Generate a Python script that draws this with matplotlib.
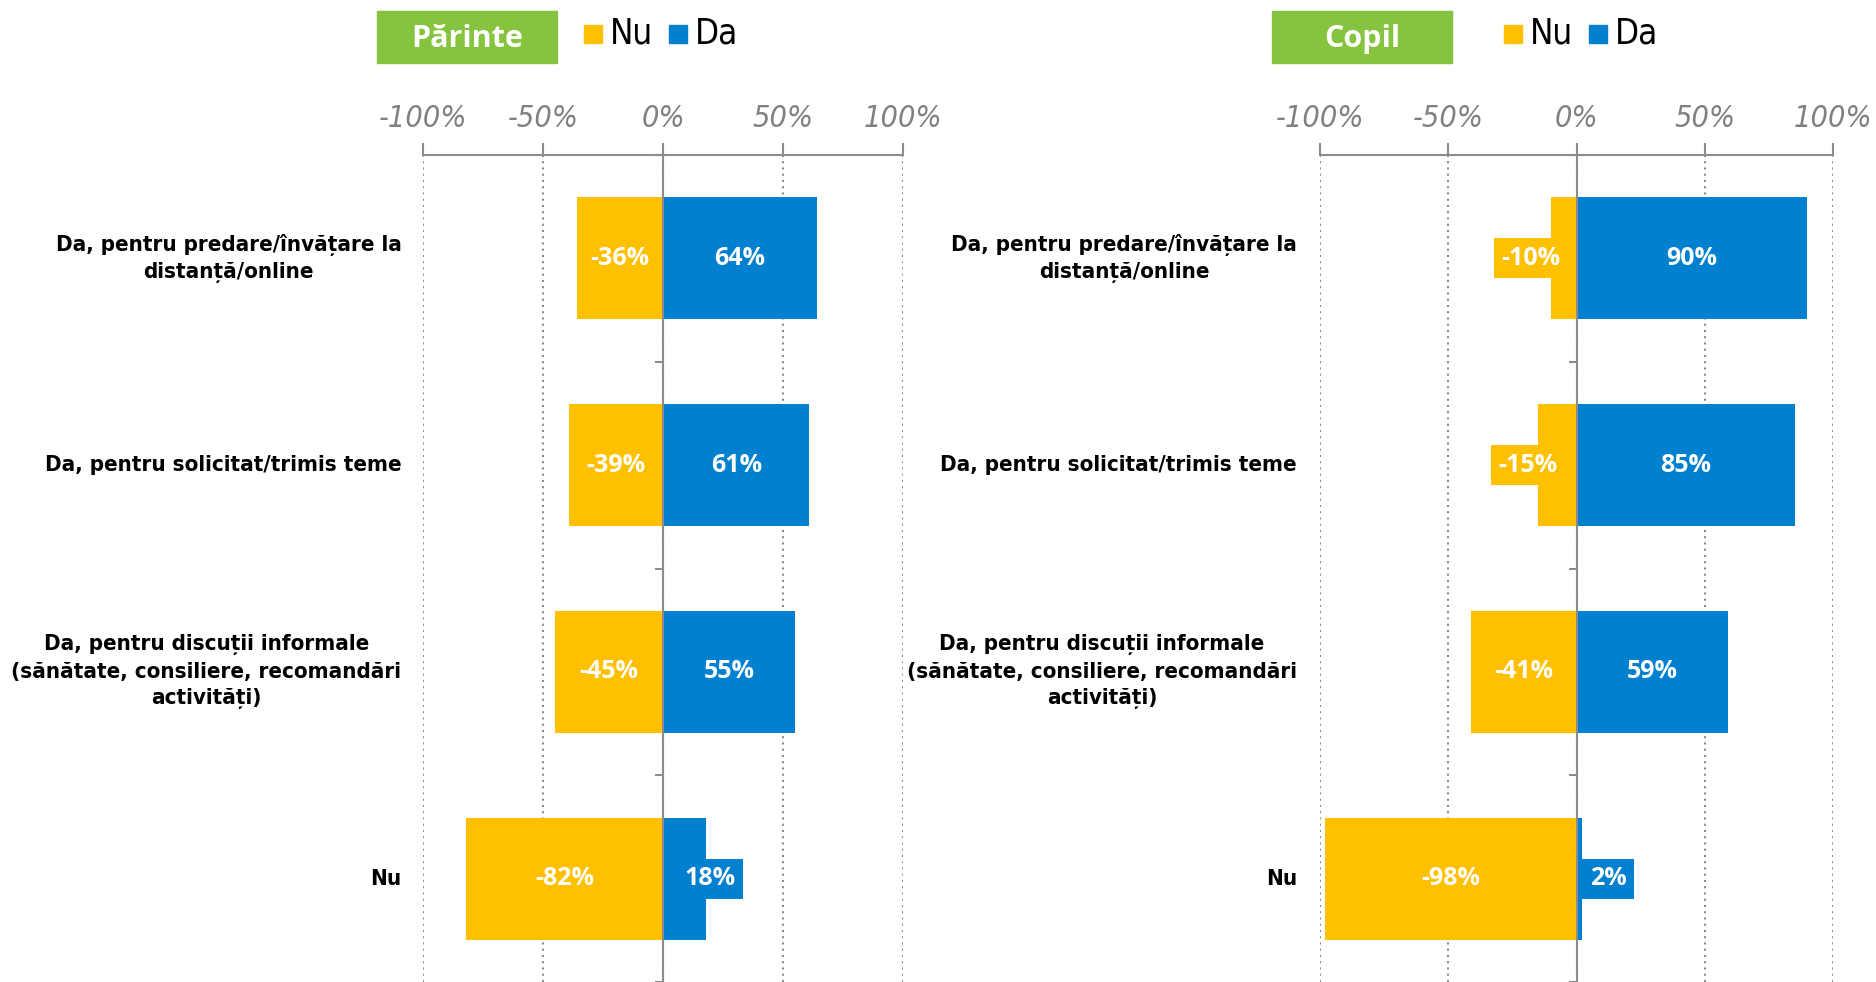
import numpy as np
import matplotlib.pyplot as plt
from matplotlib.patches import Rectangle
from matplotlib.ticker import FixedLocator
from matplotlib import font_manager as fm

# data
categories = ["Da, pentru predare/învățare la\ndistanță/online",
              "Da, pentru solicitat/trimis teme",
              "Da, pentru discuții informale\n(sănătate, consiliere, recomandări\nactivități)",
              "Nu"]
parinte_nu = [-36, -39, -45, -82]
parinte_da = [64, 61, 55, 18]
copil_nu = [-10, -15, -41, -98]
copil_da = [90, 85, 59, 2]
xticks = [-100, -50, 0, 50, 100]
xtick_labels = ["-100%", "-50%", "0%", "50%", "100%"]

YELLOW = "#FFC000"
BLUE = "#0080CE"
GREEN = "#86C440"
GREY = "#8C8C8C"

# pick a narrow font if one is installed
_fonts = fm.fontManager.ttflist
_names = {f.name for f in _fonts}
if "Liberation Sans Narrow" in _names:
    NARROW = dict(family="Liberation Sans Narrow")
elif any(f.name == "DejaVu Sans" and f.stretch == "condensed" for f in _fonts):
    NARROW = dict(family="DejaVu Sans", stretch="condensed")
elif "Roboto Condensed" in _names:
    NARROW = dict(family="Roboto Condensed")
else:
    NARROW = dict(family="Roboto")
LABEL_FONT = dict(family=["Open Sans", "DejaVu Sans"])

W, H = 1876, 982
fig = plt.figure(figsize=(W / 100, H / 100), dpi=100)


def px_axes(x0, x1, ytop, ybot):
    return fig.add_axes([x0 / W, 1 - ybot / H, (x1 - x0) / W, (ybot - ytop) / H])


def value_label(ax, v, y, color):
    txt = f"{v}%"
    style = dict(va="center", color="white", fontsize=18, fontweight="bold", **LABEL_FONT)
    if abs(v) >= 20:
        ax.text(v / 2, y, txt, ha="center", **style)
        return
    sign = -1 if v < 0 else 1
    box = dict(boxstyle="square,pad=0.3", fc=color, ec="none")
    if abs(v) < 5:
        ax.annotate(txt, (v, y), xytext=(sign * 8, 0), textcoords="offset pixels",
                    ha="left" if sign > 0 else "right", bbox=box, **style)
    else:
        ax.annotate(txt, (v, y), xytext=(sign * (20 - abs(v)) * 2, 0),
                    textcoords="offset pixels", ha="center", bbox=box, **style)


def panel(ax, nu, da):
    y = np.arange(len(categories))
    ax.barh(y, nu, height=0.59, color=YELLOW, zorder=2)
    ax.barh(y, da, height=0.59, color=BLUE, zorder=2)
    for i in range(len(categories)):
        value_label(ax, nu[i], y[i], YELLOW)
        value_label(ax, da[i], y[i], BLUE)
        ax.text(-0.045, y[i], categories[i], transform=ax.get_yaxis_transform(),
                ha="right", va="center", multialignment="center",
                fontsize=16, fontweight="bold", linespacing=1.4, **NARROW)

    ax.set_xlim(-100, 100)
    ax.set_ylim(len(categories) - 0.5, -0.5)
    ax.xaxis.tick_top()
    ax.set_xticks(xticks)
    ax.set_xticklabels(xtick_labels, fontsize=22, style="italic", color="#808080",
                       **NARROW)
    ax.tick_params(axis="x", direction="out", length=9, width=1.5, color=GREY, pad=7)
    ax.xaxis.grid(True, linestyle=(0, (1, 2)), color=GREY, linewidth=1.5, zorder=0)
    ax.set_axisbelow(True)

    ax.yaxis.set_major_locator(FixedLocator(np.arange(len(categories) + 1) - 0.5))
    ax.yaxis.set_minor_locator(FixedLocator(y))
    ax.yaxis.set_major_formatter(plt.NullFormatter())
    ax.tick_params(axis="y", which="major", direction="out", length=6, width=1.5, color=GREY)
    ax.tick_params(axis="y", which="minor", direction="in", length=5, width=1.5, color=GREY)

    for s in ["bottom", "right"]:
        ax.spines[s].set_visible(False)
    ax.spines["top"].set_color(GREY)
    ax.spines["top"].set_linewidth(1.5)
    ax.spines["left"].set_position(("data", 0))
    ax.spines["left"].set_color(GREY)
    ax.spines["left"].set_linewidth(1.5)
    ax.spines["left"].set_zorder(3)


ax1 = px_axes(423, 903, 155, 982)
panel(ax1, parinte_nu, parinte_da)
ax2 = px_axes(1320, 1833, 155, 982)
panel(ax2, copil_nu, copil_da)


def header(title, box_x, leg_x):
    fig.patches.append(Rectangle((box_x / W, 1 - 63 / H), 180 / W, 52 / H,
                                 transform=fig.transFigure, color=GREEN))
    fig.text((box_x + 90) / W, 1 - 39 / H, title, ha="center", va="center",
             color="white", fontsize=22, fontweight="bold", **LABEL_FONT)
    for k, (name, col) in enumerate([("Nu", YELLOW), ("Da", BLUE)]):
        x = leg_x + k * 85
        fig.patches.append(Rectangle((x / W, 1 - 43 / H), 18 / W, 18 / H,
                                     transform=fig.transFigure, color=col))
        fig.text((x + 26) / W, 1 - 34 / H, name, ha="left", va="center",
                 fontsize=25, **NARROW)


header("Părinte", 377, 584)
header("Copil", 1272, 1504)

fig.savefig("out.png", dpi=100)
